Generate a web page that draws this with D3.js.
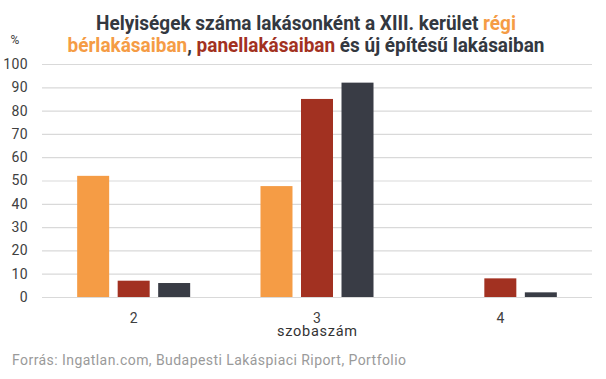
<!DOCTYPE html>
<html><head><meta charset="utf-8">
<script src="https://cdn.jsdelivr.net/npm/d3@7"></script>
<style>body{margin:0;background:#fff;}svg{display:block;font-family:Roboto,"Noto Sans",sans-serif;}</style>
</head><body>
<svg id="c" width="606" height="379"></svg>
<script>
const categories = ["2", "3", "4"];
const seriesNames = ["régi bérlakások", "panellakások", "új építésű lakások"];
const seriesColors = ["#F59C45", "#A23121", "#393C45"];
const values = [
  [52, 7, 6],
  [47.6, 85, 92],
  [0, 8, 2]
];
const yTicks = [0, 10, 20, 30, 40, 50, 60, 70, 80, 90, 100];

const svg = d3.select("#c");
const m = {left: 42, right: 14, top: 64, bottom: 82};
const W = 606, H = 379;
const x0 = d3.scaleBand().domain(categories).range([m.left, W - m.right]).padding(0);
const x1 = d3.scaleBand().domain(seriesNames.map((d, i) => i)).range([0, x0.bandwidth()]).paddingInner(0.21).paddingOuter(0.868);
const y = d3.scaleLinear().domain([0, 100]).range([H - m.bottom, m.top]);

// gridlines
const yAxis = d3.axisLeft(y).tickValues(yTicks).tickSize(-(W - m.left - m.right)).tickPadding(14);
const ga = svg.append("g").attr("transform", `translate(${m.left},0)`).call(yAxis);
ga.select(".domain").remove();
ga.selectAll(".tick line").attr("stroke", "#d9d9d9").attr("stroke-width", 1.2);
ga.selectAll(".tick text").attr("fill", "#404040").style("font-size", "14px")
  .style("font-family", "Roboto").style("letter-spacing", "0.4px");

// bars
categories.forEach((c, ci) => {
  values[ci].forEach((v, si) => {
    if (v <= 0) return;
    svg.append("rect")
      .attr("x", x0(c) + x1(si))
      .attr("width", x1.bandwidth())
      .attr("y", y(v))
      .attr("height", y(0) - y(v))
      .attr("fill", seriesColors[si]);
  });
});

// x axis labels
const xAxis = d3.axisBottom(x0).tickSize(0).tickPadding(16);
const gx = svg.append("g").attr("transform", `translate(0,${y(0)})`).call(xAxis);
gx.select(".domain").remove();
gx.selectAll(".tick text").attr("fill", "#404040").style("font-size", "14px").style("font-family", "Roboto");

svg.append("text").attr("x", x0("3") + x0.bandwidth() / 2).attr("y", 336).attr("text-anchor", "middle")
  .attr("fill", "#333").style("font-size", "14.5px")
  .attr("textLength", 80).attr("lengthAdjust", "spacing").text("szobaszám");

svg.append("text").attr("x", 15).attr("y", 44).attr("text-anchor", "middle")
  .attr("fill", "#404040").style("font-size", "12px").text("%");

// title
const t1 = svg.append("text").attr("x", 306).attr("y", 30).attr("text-anchor", "middle")
  .style("font-size", "20px").style("font-weight", "bold").attr("fill", "#333840")
  .attr("textLength", 420).attr("lengthAdjust", "spacingAndGlyphs");
t1.append("tspan").text("Helyiségek száma lakásonként a XIII. kerület ");
t1.append("tspan").attr("fill", seriesColors[0]).text("régi");
const t2 = svg.append("text").attr("x", 306).attr("y", 52).attr("text-anchor", "middle")
  .style("font-size", "20px").style("font-weight", "bold").attr("fill", "#333840")
  .attr("textLength", 477).attr("lengthAdjust", "spacingAndGlyphs");
t2.append("tspan").attr("fill", seriesColors[0]).text("bérlakásaiban");
t2.append("tspan").text(", ");
t2.append("tspan").attr("fill", seriesColors[1]).text("panellakásaiban");
t2.append("tspan").text(" és új építésű lakásaiban");

svg.append("text").attr("x", 12).attr("y", 365).attr("fill", "#9a9a9a")
  .style("font-size", "14px").attr("textLength", 394).attr("lengthAdjust", "spacing")
  .text("Forrás: Ingatlan.com, Budapesti Lakáspiaci Riport, Portfolio");
</script>
</body></html>
